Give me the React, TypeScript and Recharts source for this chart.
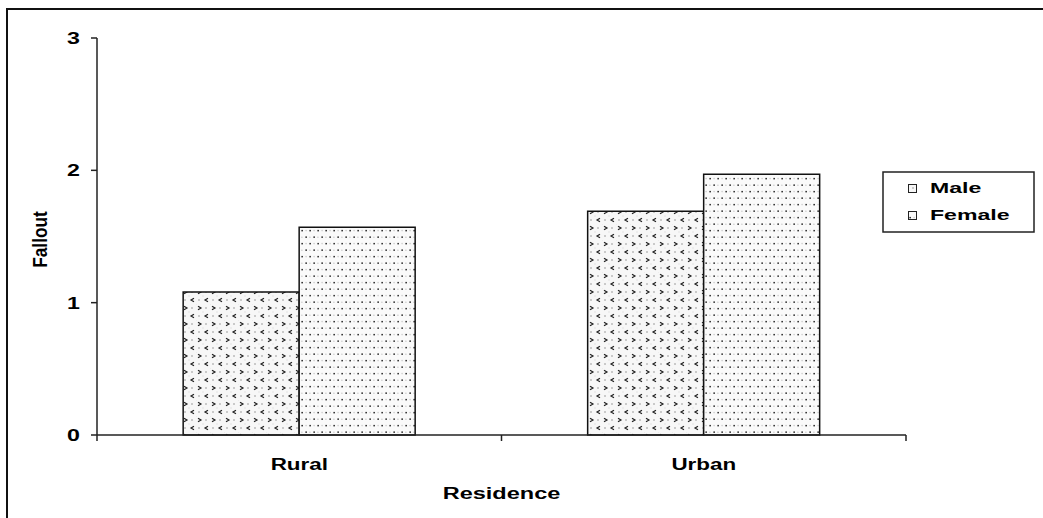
import { BarChart, Bar, XAxis, YAxis } from "recharts";

// ── data ──────────────────────────────────────────────
const categories = ["Rural", "Urban"];
const maleValues = [1.08, 1.69];
const femaleValues = [1.57, 1.97];
const seriesNames = ["Male", "Female"];
const yTicks = [0, 1, 2, 3];
const xAxisTitle = "Residence";
const yAxisTitle = "Fallout";

const data = categories.map((c, i) => ({
  residence: c,
  male: maleValues[i],
  female: femaleValues[i],
}));

// ── layout ────────────────────────────────────────────
const W = 1043;
const H = 518;
const MARGIN = { top: 38, right: 137, left: 0, bottom: 0 };
const Y_AXIS_W = 97;
const X_AXIS_H = 83;
const PLOT_W = W - MARGIN.right - Y_AXIS_W;
const HALF_BAND = PLOT_W / categories.length / 2;
const FONT = "'Liberation Sans', Arial, Helvetica, sans-serif";
const AXIS = "#222";

function StretchText({
  x,
  y,
  sx = 1.45,
  sy = 1,
  size = 16,
  anchor = "middle",
  rotate = 0,
  children,
}: {
  x: number;
  y: number;
  sx?: number;
  sy?: number;
  size?: number;
  anchor?: "start" | "middle" | "end";
  rotate?: number;
  children: string;
}) {
  const rot = rotate ? ` rotate(${rotate})` : "";
  return (
    <g transform={`translate(${x},${y})${rot} scale(${sx},${sy})`}>
      <text x={0} y={0} textAnchor={anchor} fontSize={size} fontWeight="bold" fontFamily={FONT} fill="#000">
        {children}
      </text>
    </g>
  );
}

function XTick(props: any) {
  const { x, y, payload, index } = props;
  const last = index === categories.length - 1;
  return (
    <g>
      <line x1={x - HALF_BAND} x2={x - HALF_BAND} y1={y} y2={y + 6} stroke={AXIS} strokeWidth={1.5} />
      {last && <line x1={x + HALF_BAND} x2={x + HALF_BAND} y1={y} y2={y + 6} stroke={AXIS} strokeWidth={1.5} />}
      <StretchText x={x} y={y + 35} sx={1.4}>
        {payload.value}
      </StretchText>
    </g>
  );
}

function YTick(props: any) {
  const { x, y, payload } = props;
  return (
    <StretchText x={x} y={y + 6} anchor="end">
      {String(payload.value)}
    </StretchText>
  );
}

function XLabel(props: any) {
  const { viewBox } = props;
  return (
    <StretchText x={viewBox.x + viewBox.width / 2} y={viewBox.y + 64} sx={1.47}>
      {xAxisTitle}
    </StretchText>
  );
}

function YLabel(props: any) {
  const { viewBox } = props;
  return (
    <StretchText x={47} y={viewBox.y + viewBox.height / 2 + 3} size={16} sx={1.08} sy={1.3} rotate={-90}>
      {yAxisTitle}
    </StretchText>
  );
}

// fill patterns + legend overlay
function Patterns() {
  return (
    <defs>
      <pattern id="malePat" width="14" height="16" patternUnits="userSpaceOnUse">
        <rect width="14" height="16" fill="#f7f7f7" />
        <circle cx="10" cy="4" r="1" fill="#bbb" />
        <circle cx="3" cy="12" r="1" fill="#bbb" />
        <circle cx="7" cy="8" r="0.7" fill="#ddd" />
        <circle cx="0" cy="0" r="0.7" fill="#ddd" />
        <path d="M2,2.2 L5,4 L2,5.8" fill="none" stroke="#222" strokeWidth="1.2" />
        <path d="M12,10.2 L9,12 L12,13.8" fill="none" stroke="#222" strokeWidth="1.2" />
      </pattern>
      <pattern id="femalePat" width="8" height="13" patternUnits="userSpaceOnUse">
        <rect width="8" height="13" fill="#fafafa" />
        <rect x="1.4" y="2.4" width="1.5" height="1.5" fill="#222" />
        <rect x="5.4" y="8.9" width="1.5" height="1.5" fill="#222" />
        <circle cx="5.9" cy="3.2" r="0.8" fill="#ccc" />
        <circle cx="2.1" cy="9.6" r="0.8" fill="#ccc" />
      </pattern>
    </defs>
  );
}

function LegendBox() {
  const fills = ["url(#malePat)", "url(#femalePat)"];
  const baselines = [193, 220];
  return (
    <svg width={W} height={H} style={{ position: "absolute", left: 0, top: 0, pointerEvents: "none" }}>
      <Patterns />
      <rect x={883} y={172} width={151} height={60} fill="#fff" stroke="#222" strokeWidth={1.5} />
      {seriesNames.map((name, i) => (
        <g key={name}>
          <rect x={908.5} y={baselines[i] - 8.5} width={8} height={8} fill={fills[i]} stroke="#222" strokeWidth={1} />
          <StretchText x={930} y={baselines[i]} size={14} sx={1.65} anchor="start">
            {name}
          </StretchText>
        </g>
      ))}
    </svg>
  );
}

export default function App() {
  return (
    <div style={{ position: "absolute", left: 0, top: 0, width: W, height: H, background: "#fff", overflow: "hidden" }}>
      <div
        style={{
          position: "absolute",
          left: 6,
          top: 8,
          width: W,
          height: H,
          borderTop: "2px solid #111",
          borderLeft: "2px solid #111",
        }}
      />
      <div style={{ position: "absolute", left: 0, top: 0 }}>
        <BarChart width={W} height={H} data={data} margin={MARGIN} barCategoryGap="21.3%" barGap={0}>
          <XAxis
            dataKey="residence"
            height={X_AXIS_H}
            tickLine={false}
            tickSize={0}
            tickMargin={0}
            axisLine={{ stroke: AXIS, strokeWidth: 1.5 }}
            tick={<XTick />}
            interval={0}
            label={<XLabel />}
          />
          <YAxis
            width={Y_AXIS_W}
            domain={[0, 3]}
            ticks={yTicks}
            interval={0}
            tickSize={6}
            tickMargin={11}
            tickLine={{ stroke: AXIS, strokeWidth: 1.5 }}
            axisLine={{ stroke: AXIS, strokeWidth: 1.5 }}
            tick={<YTick />}
            label={<YLabel />}
          />
          <Bar dataKey="male" name={seriesNames[0]} fill="url(#malePat)" stroke="#111" strokeWidth={1.5} isAnimationActive={false} />
          <Bar dataKey="female" name={seriesNames[1]} fill="url(#femalePat)" stroke="#111" strokeWidth={1.5} isAnimationActive={false} />
        </BarChart>
      </div>
      <LegendBox />
    </div>
  );
}
